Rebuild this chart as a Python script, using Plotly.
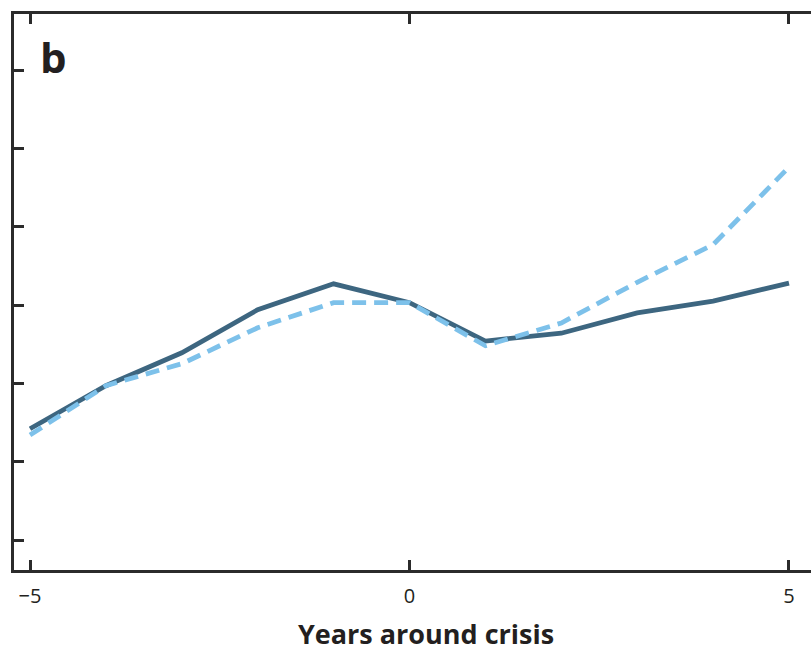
import plotly.graph_objects as go

years = [-5, -4, -3, -2, -1, 0, 1, 2, 3, 4, 5]
solid_series = [1.42, 1.97, 2.39, 2.94, 3.27, 3.03, 2.54, 2.64, 2.90, 3.05, 3.28]
dashed_series = [1.34, 1.97, 2.25, 2.71, 3.03, 3.03, 2.48, 2.77, 3.29, 3.77, 4.76]
x_tick_vals = [-5, 0, 5]
x_tick_text = ["\u22125", "0", "5"]
y_tick_vals = [0, 1, 2, 3, 4, 5, 6]
x_title = "Years around crisis"
panel_label = "b"

FONT = "Open Sans"
AXIS = "#2b2b2b"
TEXT = "#231f20"

fig = go.Figure()
fig.add_trace(go.Scatter(
    x=years, y=solid_series, mode="lines",
    line=dict(color="#3d6680", width=4.8),
    showlegend=False, hoverinfo="skip"))
fig.add_trace(go.Scatter(
    x=years, y=dashed_series, mode="lines",
    line=dict(color="#7dc1ea", width=4.8, dash="14px,8px"),
    showlegend=False, hoverinfo="skip"))

fig.update_layout(
    width=811, height=651,
    margin=dict(l=14, r=0, t=14, b=81, autoexpand=False),
    paper_bgcolor="white", plot_bgcolor="white",
    font=dict(family=FONT, color=TEXT),
    xaxis=dict(
        range=[-5.211, 5.29], tickvals=x_tick_vals, ticktext=x_tick_text,
        showgrid=False, zeroline=False, automargin=False,
        showline=True, linecolor=AXIS, linewidth=2.5, mirror="ticks",
        ticks="inside", ticklen=10, tickwidth=2.5, tickcolor=AXIS,
        tickfont=dict(size=20, family=FONT, color=TEXT),
        ticklabelstandoff=6,
    ),
    yaxis=dict(
        range=[-0.383, 6.715], tickvals=y_tick_vals, showticklabels=False,
        showgrid=False, zeroline=False, automargin=False,
        showline=True, linecolor=AXIS, linewidth=2.5, mirror=False,
        ticks="inside", ticklen=10, tickwidth=2.5, tickcolor=AXIS,
    ),
    annotations=[
        dict(text="<b>" + panel_label + "</b>", xref="paper", yref="paper",
             x=0.03, y=0.924, xanchor="left", yanchor="middle",
             showarrow=False, font=dict(size=42, family=FONT, color=TEXT)),
        dict(text="<b>" + x_title + "</b>", xref="paper", yref="paper",
             x=0.517, y=-0.115, xanchor="center", yanchor="middle",
             showarrow=False, font=dict(size=27, family=FONT, color=TEXT)),
    ],
)

fig.write_html(
    "out.html",
    config={"displayModeBar": False},
    post_script="document.body.style.margin='0';document.body.style.overflow='hidden';",
)
